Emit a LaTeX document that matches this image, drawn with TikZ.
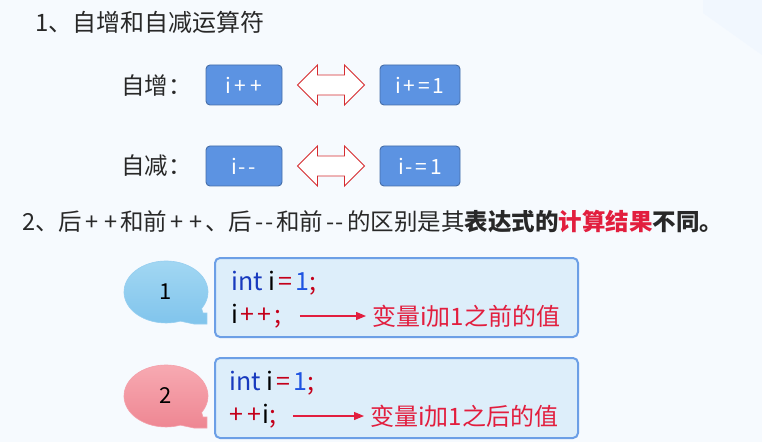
\documentclass[tikz,border=0pt]{standalone}
\usepackage{fontspec}
\setmainfont{Noto Sans CJK SC}[Ligatures=TeXOff]
\usetikzlibrary{calc,arrows.meta,positioning}
\definecolor{bgcolor}{RGB}{246,250,254}
\definecolor{bgcorner}{RGB}{241,247,254}
\definecolor{opfill}{RGB}{92,147,226}
\definecolor{opedge}{RGB}{70,110,168}
\definecolor{arrred}{RGB}{214,44,48}
\definecolor{codefill}{RGB}{221,238,250}
\definecolor{codeedge}{RGB}{108,159,230}
\definecolor{kwblue}{RGB}{24,58,190}
\definecolor{numblue}{RGB}{30,84,226}
\definecolor{opred}{RGB}{196,0,26}
\definecolor{resred}{RGB}{226,30,62}
\definecolor{txtgray}{RGB}{40,40,40}
\definecolor{bluetop}{RGB}{164,216,243}
\definecolor{bluebot}{RGB}{128,196,236}
\definecolor{blueedge}{RGB}{150,206,240}
\definecolor{pinktop}{RGB}{248,172,180}
\definecolor{pinkbot}{RGB}{238,134,146}
\definecolor{pinkedge}{RGB}{244,160,170}

% spaced operators
\newcommand\pp{\kern3pt+\kern6pt+\kern3pt}
\newcommand\mm{\kern3pt-\kern1.5pt-\kern3pt}

% double outline arrow between two boxes
\newcommand\swaparrow[2]{%
  \draw[swapline] ($(#1.east)!0.5!(#2.west)$) ++(-33.5,0)
    -- ++(20,20) -- ++(0,-10) -- ++(27,0) -- ++(0,10)
    -- ++(20,-20) -- ++(-20,-20) -- ++(0,10) -- ++(-27,0) -- ++(0,-10) -- cycle;}

% speech bubble with the tail at the lower right
\newcommand\bubble[4]{%
  \shade[top color=#2,bottom color=#3,draw=#4,line width=0.6pt] (#1) ++(-32:42 and 31)
    arc[start angle=-32,end angle=290,x radius=42,y radius=31]
    -- ++(13.6,-2.9) -- ++(13,0) -- ++(0,11) -- ++(-4,0) -- cycle;}

\begin{document}
\begin{tikzpicture}[x=1pt,y=1pt,
    bigtxt/.style={font=\fontsize{23.5}{27}\selectfont,text=txtgray,inner sep=0pt},
    opbox/.style={draw=opedge,fill=opfill,rounded corners=4pt,line width=0.9pt,
      minimum width=76pt,minimum height=40pt,inner sep=0pt,text=white,
      font=\fontsize{21}{25}\selectfont},
    swapline/.style={draw=arrred,fill=white,line width=0.9pt,line join=miter},
    codebox/.style={draw=codeedge,fill=codefill,rounded corners=5pt,line width=2pt,
      minimum width=363pt,minimum height=79pt},
    codetxt/.style={font=\fontsize{25}{29}\selectfont,inner sep=0pt,anchor=west},
    restxt/.style={font=\fontsize{24}{28}\selectfont,text=resred,inner sep=0pt,anchor=west},
    resarr/.style={draw=resred,line width=1.2pt,-{Triangle[length=10pt,width=8pt]}},
    numtxt/.style={font=\fontsize{22}{26}\selectfont,inner sep=0pt}]
  \fill[bgcolor] (0,0) rectangle (762,442);
  \fill[bgcorner] (703,442) -- (762,442) -- (762,387) -- (703,429) -- cycle;
  \useasboundingbox (0,0) rectangle (762,442);

  % part 1
  \node[bigtxt,anchor=west,font=\fontsize{24}{28}\selectfont] (title1) at (35,420) {1、自增和自减运算符};
  \node[bigtxt,anchor=east] (lblinc) at (192,356) {自增：};
  \node[opbox] (inc) at (244,357) {i\kern3pt+\kern4pt+};
  \node[opbox,minimum width=80pt] (inceq) at (420,357) {i\kern2pt+\kern3pt=\kern3pt1};
  \swaparrow{inc}{inceq}
  \node[bigtxt,anchor=east] (lbldec) at (192,276) {自减：};
  \node[opbox] (dec) at (244,276) {i\kern1pt-\kern3pt-};
  \node[opbox,minimum width=80pt] (deceq) at (420,276) {i\kern1pt-\kern3pt=\kern3pt1};
  \swaparrow{dec}{deceq}

  % part 2
  \node[bigtxt,anchor=west] (title2) at (22,220)
    {2、后\pp 和前\pp 、后\mm 和前\mm 的区别是其\textbf{表达式的\textcolor{resred}{计算结果}不同。}};

  \coordinate (b1) at (166,150);
  \bubble{b1}{bluetop}{bluebot}{blueedge}
  \node[numtxt] (n1) at (b1) {1};
  \node[codebox] (code1) at (396.5,144.5) {};
  \node[codetxt] (c1a) at (231,159)
    {\textcolor{kwblue}{int} i\kern3pt\textcolor{opred}{=}\kern3pt\textcolor{numblue}{1}\kern1pt\textcolor{opred}{;}};
  \node[codetxt] (c1b) at (231,126) {i\kern2pt\textcolor{opred}{+\kern4pt+\kern3pt;}};
  \node[restxt] (r1) at (372,126) {变量i加1之前的值};
  \draw[resarr,shorten <=18pt,shorten >=6pt] (c1b.east) -- (r1.west);

  \coordinate (b2) at (166,46);
  \bubble{b2}{pinktop}{pinkbot}{pinkedge}
  \node[numtxt] (n2) at (b2) {2};
  \node[codebox,minimum height=80pt] (code2) at (396.5,44) {};
  \node[codetxt] (c2a) at (229,59)
    {\textcolor{kwblue}{int} i\kern3pt\textcolor{opred}{=}\kern3pt\textcolor{numblue}{1}\kern1pt\textcolor{opred}{;}};
  \node[codetxt] (c2b) at (229,26) {\textcolor{opred}{+\kern4pt+}\kern2pt i\textcolor{opred}{;}};
  \node[restxt] (r2) at (370,26) {变量i加1之后的值};
  \draw[resarr,shorten <=16pt,shorten >=6pt] (c2b.east) -- (r2.west);
\end{tikzpicture}
\end{document}
